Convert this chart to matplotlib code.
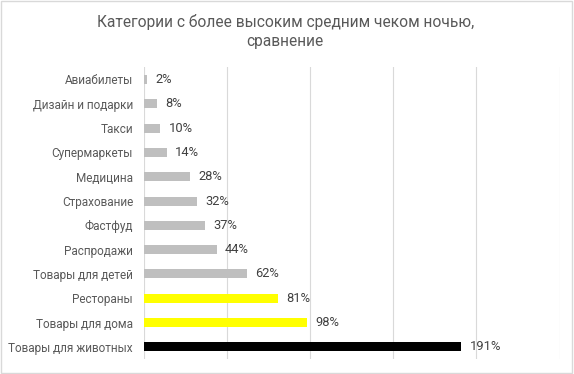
import matplotlib.pyplot as plt
from matplotlib.patches import Rectangle

plt.rcParams['font.family'] = ['Roboto', 'DejaVu Sans']

categories = ["Авиабилеты", "Дизайн и подарки", "Такси", "Супермаркеты", "Медицина",
              "Страхование", "Фастфуд", "Распродажи", "Товары для детей", "Рестораны",
              "Товары для дома", "Товары для животных"]
values = [2, 8, 10, 14, 28, 32, 37, 44, 62, 81, 98, 191]
colors = ["#BFBFBF"] * 9 + ["#FFFF00", "#FFFF00", "#000000"]

text_color = "#595959"

fig = plt.figure(figsize=(5.74, 3.74), dpi=100)
ax = fig.add_axes([0.25, 0.04, 0.725, 0.78])

y = list(range(len(categories)))
ax.barh(y, values, height=0.37, color=colors, zorder=3)
ax.set_ylim(len(categories) - 0.5, -0.5)
ax.set_xlim(0, 250)
ax.set_xticks([0, 50, 100, 150, 200, 250])
ax.set_xticklabels([])
ax.tick_params(axis='x', length=0)
ax.grid(axis='x', color="#D9D9D9", linewidth=0.8, zorder=0)
ax.set_yticks(y)
ax.set_yticklabels(categories, fontsize=8.5, color=text_color)
ax.tick_params(axis='y', length=0, pad=7.5)
for s in ax.spines.values():
    s.set_visible(False)

for i, v in enumerate(values):
    ax.annotate(f"{v}%", (v, i), xytext=(6, 0), textcoords='offset points',
                va='center', ha='left', fontsize=9.3, color="#404040")

fig.text(0.497, 0.915, "Категории с более высоким средним чеком ночью,\nсравнение",
         ha='center', va='center', fontsize=11.2, color=text_color, linespacing=1.35)

fig.patches.append(Rectangle((0.002, 0.003), 0.995, 0.994, transform=fig.transFigure,
                             fill=False, edgecolor="#D9D9D9", linewidth=1))

fig.savefig("out.png", dpi=100)
